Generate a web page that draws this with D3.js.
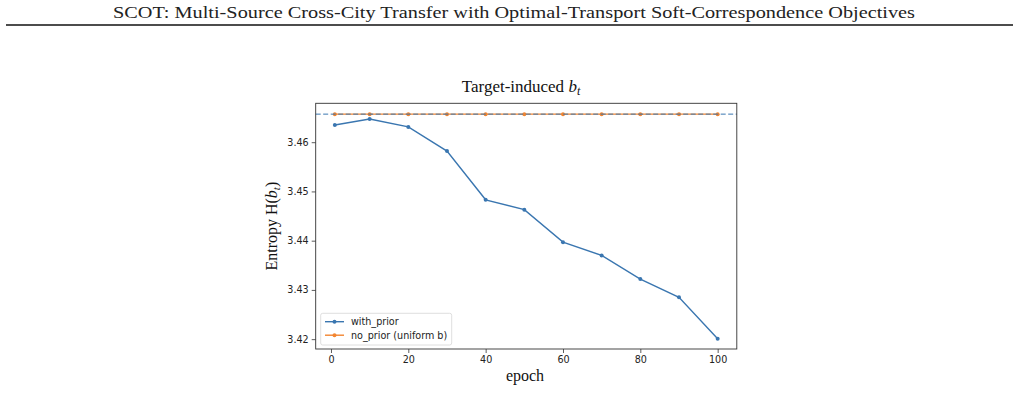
<!DOCTYPE html>
<html>
<head>
<meta charset="utf-8">
<script src="https://cdn.jsdelivr.net/npm/d3@7"></script>
<style>
  body { margin: 0; background: #fff; }
  svg { display: block; }
</style>
</head>
<body>
<script>
  // data
  var epochs = [1, 10, 20, 30, 40, 50, 60, 70, 80, 90, 100];
  var withPrior = [3.4635, 3.4647, 3.4631, 3.4582, 3.4483, 3.4463, 3.4397, 3.4370, 3.4322, 3.4285, 3.4201];
  var noPrior = [3.4657, 3.4657, 3.4657, 3.4657, 3.4657, 3.4657, 3.4657, 3.4657, 3.4657, 3.4657, 3.4657];
  var uniformLevel = 3.4657; // ln(32)
  var xTicks = [0, 20, 40, 60, 80, 100];
  var yTicks = [3.42, 3.43, 3.44, 3.45, 3.46];
  var seriesNames = ['with_prior', 'no_prior (uniform b)'];
  var seriesColors = ['#3a76b0', '#f28530'];

  var W = 1020, H = 393;
  var plotL = 315.7, plotR = 736.8, plotT = 103.3, plotB = 349;

  var svg = d3.select('body').append('svg').attr('width', W).attr('height', H);

  // page header
  svg.append('text')
    .attr('x', 514).attr('y', 18)
    .attr('text-anchor', 'middle')
    .attr('textLength', 802).attr('lengthAdjust', 'spacingAndGlyphs')
    .style('font-family', '"Liberation Serif", "DejaVu Serif", serif')
    .style('font-size', '17px').attr('fill', '#222')
    .text('SCOT: Multi-Source Cross-City Transfer with Optimal-Transport Soft-Correspondence Objectives');
  svg.append('line')
    .attr('x1', 6).attr('x2', 1013).attr('y1', 25).attr('y2', 25)
    .attr('stroke', '#111').attr('stroke-width', 1.3);

  var x = d3.scaleLinear().domain([-3.95, 104.95]).range([plotL, plotR]);
  var y = d3.scaleLinear().domain([3.4180, 3.4679]).range([plotB, plotT]);

  var g = svg.append('g');

  // axes
  var xAxis = d3.axisBottom(x).tickValues(xTicks).tickSize(4).tickPadding(3).tickFormat(d3.format('d'));
  var yAxis = d3.axisLeft(y).tickValues(yTicks).tickSize(4).tickPadding(3).tickFormat(d3.format('.2f'));

  var gx = g.append('g').attr('transform', 'translate(0,' + plotB + ')').call(xAxis);
  var gy = g.append('g').attr('transform', 'translate(' + plotL + ',0)').call(yAxis);
  [gx, gy].forEach(function(a) {
    a.select('.domain').remove();
    a.selectAll('.tick line').attr('stroke', '#333').attr('stroke-width', 0.8);
    a.selectAll('.tick text').attr('fill', '#222')
      .style('font-family', '"DejaVu Sans", sans-serif').style('font-size', '9.6px');
  });

  // lines
  var line = d3.line().x(function(d) { return x(d[0]); }).y(function(d) { return y(d[1]); });
  var series = [withPrior, noPrior];

  series.forEach(function(vals, i) {
    var pts = epochs.map(function(e, j) { return [e, vals[j]]; });
    g.append('path').datum(pts).attr('d', line)
      .attr('fill', 'none').attr('stroke', seriesColors[i]).attr('stroke-width', 1.4);
    g.selectAll('.m' + i).data(pts).enter().append('circle')
      .attr('cx', function(d) { return x(d[0]); })
      .attr('cy', function(d) { return y(d[1]); })
      .attr('r', 2).attr('fill', seriesColors[i]);
  });

  // dashed reference line
  g.append('line')
    .attr('x1', plotL).attr('x2', plotR)
    .attr('y1', y(uniformLevel)).attr('y2', y(uniformLevel))
    .attr('stroke', seriesColors[0]).attr('stroke-width', 1)
    .attr('stroke-dasharray', '5,2.5');

  // frame
  g.append('rect')
    .attr('x', plotL).attr('y', plotT).attr('width', plotR - plotL).attr('height', plotB - plotT)
    .attr('fill', 'none').attr('stroke', '#333').attr('stroke-width', 0.9);

  // legend
  var lg = g.append('g');
  lg.append('rect')
    .attr('x', 320.7).attr('y', 313.3).attr('width', 131).attr('height', 31.7).attr('rx', 2)
    .attr('fill', '#fff').attr('fill-opacity', 0.8).attr('stroke', '#d6d6d6').attr('stroke-width', 0.8);
  seriesNames.forEach(function(name, i) {
    var ly = 321.7 + i * 13.5;
    lg.append('line').attr('x1', 325).attr('x2', 344).attr('y1', ly).attr('y2', ly)
      .attr('stroke', seriesColors[i]).attr('stroke-width', 1.4);
    lg.append('circle').attr('cx', 334.5).attr('cy', ly).attr('r', 2).attr('fill', seriesColors[i]);
    lg.append('text').attr('x', 351).attr('y', ly + 3.4)
      .style('font-family', '"DejaVu Sans", sans-serif').style('font-size', '9.6px').attr('fill', '#222')
      .text(name);
  });

  // title
  var title = svg.append('text')
    .attr('x', 521).attr('y', 92)
    .attr('text-anchor', 'middle')
    .style('font-family', '"Liberation Serif", "DejaVu Serif", serif')
    .style('font-size', '17px').attr('fill', '#111');
  title.append('tspan').text('Target-induced ');
  title.append('tspan').style('font-style', 'italic').text('b');
  title.append('tspan').style('font-style', 'italic').style('font-size', '12px').attr('dy', 3).text('t');

  // axis labels
  svg.append('text')
    .attr('x', 525).attr('y', 381)
    .attr('text-anchor', 'middle')
    .style('font-family', '"Liberation Serif", "DejaVu Serif", serif')
    .style('font-size', '16px').attr('fill', '#111')
    .text('epoch');

  var yl = svg.append('text')
    .attr('transform', 'translate(277,' + ((plotT + plotB) / 2) + ') rotate(-90)')
    .attr('text-anchor', 'middle')
    .style('font-family', '"Liberation Serif", "DejaVu Serif", serif')
    .style('font-size', '16px').attr('fill', '#111');
  yl.append('tspan').text('Entropy H(');
  yl.append('tspan').style('font-style', 'italic').text('b');
  yl.append('tspan').style('font-style', 'italic').style('font-size', '11px').attr('dy', 3).text('t');
  yl.append('tspan').attr('dy', -3).text(')');
</script>
</body>
</html>
